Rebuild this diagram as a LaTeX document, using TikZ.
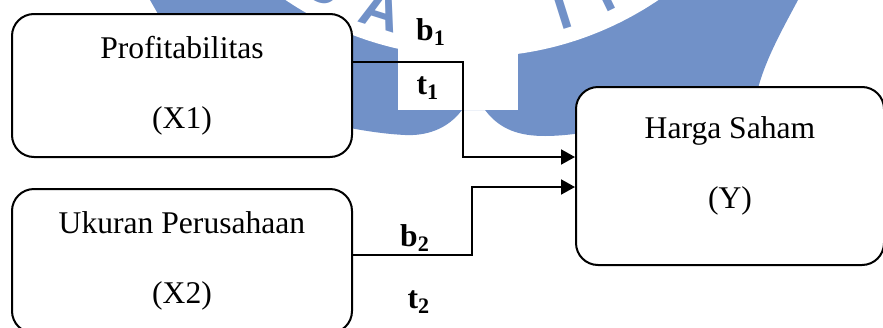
\documentclass[tikz,border=0pt]{standalone}
\usepackage{fontspec}
\setmainfont{Liberation Serif}
\setsansfont{Liberation Sans}
\usepackage{tikz}
\usetikzlibrary{arrows.meta}
\definecolor{wmblue}{RGB}{113,145,200}

\begin{document}
\begin{tikzpicture}[x=0.5pt, y=-0.5pt,
        box/.style={draw, line width=1pt, rounded corners=11pt, fill=white, align=center, inner sep=0pt, font=\fontsize{15.8}{19}\selectfont},
        lbl/.style={inner sep=0pt, font=\fontsize{15.8}{19}\selectfont\bfseries},
        conn/.style={line width=1pt, -{Triangle[length=7pt, width=7.5pt]}}]
                \useasboundingbox (0,0) rectangle (883,327);
                \begin{scope}
                    \clip (0,0) rectangle (883,327);
                    \fill[wmblue] (150,0) -- (798,0) .. controls (782,30) and (765,60) .. (757,92) -- (700,125) -- (590,132) .. controls (575,134) and (560,136) .. (545,136) .. controls (520,136) and (500,130) .. (485,110) -- (462,110) .. controls (447,130) and (425,136) .. (405,135) .. controls (385,134) and (365,131) .. (345,127) -- (250,80) -- (158,14) -- cycle;
                    \fill[white] (472,-276) circle (166.5pt);
                    \fill[white] (398,40) rectangle (518,110);
                    \foreach \ltr/\ang in {U/119.5, A/107.5, I/72.5, T/64}
                        \node[wmblue, anchor=south, inner sep=0pt, rotate=90-\ang, font=\fontsize{28}{30}\sffamily\bfseries\selectfont] at ([shift={(472,-276)}]\ang:319) {\ltr};
                \end{scope}
                \node[box, minimum width=170pt, minimum height=71.5pt] (profit) at (182,85.5) {Profitabilitas\\[16pt](X1)};
                \node[box, minimum width=170pt, minimum height=72pt] (ukuran) at (182,261) {Ukuran Perusahaan\\[16pt](X2)};
                \node[box, minimum width=154pt, minimum height=89pt] (harga) at (730,176) {Harga Saham\\[16pt](Y)\\[-6pt]};
                \coordinate (k1) at (463,157);
                \coordinate (k2) at (472,187);
                \draw[conn] (profit.east |- 0,62) -| (k1) -- (harga.west |- k1);
                \draw[conn] (ukuran.east |- 0,255) -| (k2) -- (harga.west |- k2);
                \node[lbl] (b1) at (431,32) {b\textsubscript{1}};
                \node[lbl] (t1) at (428,88) {t\textsubscript{1}};
                \node[lbl] (b2) at (415,238) {b\textsubscript{2}};
                \node[lbl] (t2) at (419,302) {t\textsubscript{2}};
            \end{tikzpicture}
\end{document}
